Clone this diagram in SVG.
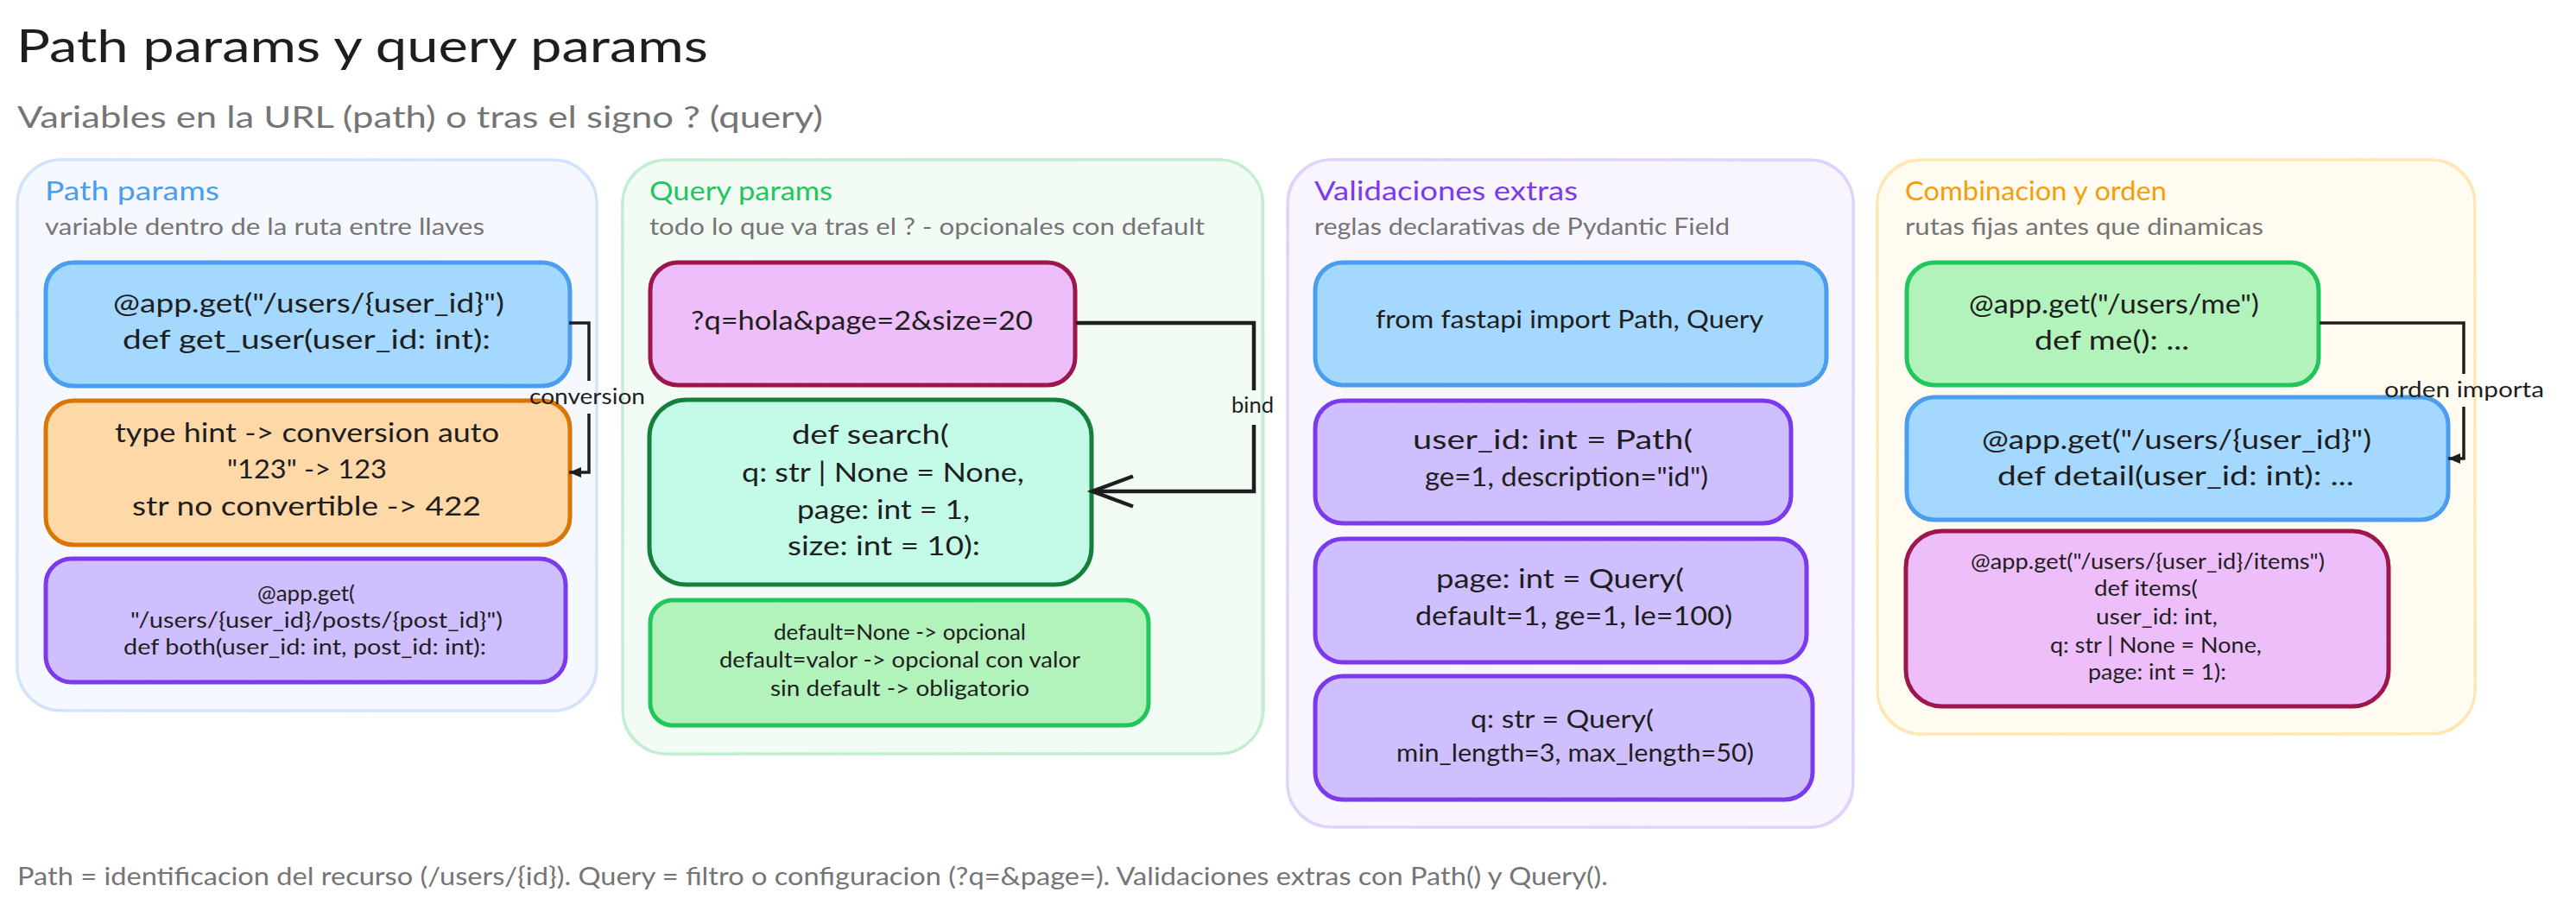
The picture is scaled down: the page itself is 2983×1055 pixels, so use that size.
<svg xmlns="http://www.w3.org/2000/svg" width="2983" height="1055" viewBox="0 0 2983 1055">
<style>
text{font-family:Lato,"Open Sans","Liberation Sans",sans-serif;fill:#1e1e1e;white-space:pre}
.h1{font-size:52px}.h2{font-size:34px;fill:#757575}.foot{font-size:28px;fill:#757575}
.pt{font-size:31px}.ps{font-size:27px;fill:#757575}
.l{font-size:31px}.m{font-size:29px}.s{font-size:25px}.lab{font-size:25px}
.p{stroke-width:3;fill:none}
.n{stroke-width:5}.n2{stroke-width:2.5;fill:none}
.pb{fill:#f5f8ff}.pbs{stroke:#d0e4fb}.pg{fill:#f2fcf5}.pgs{stroke:#c3eed3}.pv{fill:#f8f5ff}.pvs{stroke:#e0d2fb}.pa{fill:#fffbf0}.pas{stroke:#fde8b5}
.blue{fill:#a5d8ff;stroke:#4a9eed}.blues{stroke:#4a9eed}
.orange{fill:#ffd8a8;stroke:#d97706}.oranges{stroke:#d97706}
.purple{fill:#d0bfff;stroke:#7c3aed}.purples{stroke:#7c3aed}
.pink{fill:#eebefa;stroke:#9d174d}.pinks{stroke:#9d174d}
.teal{fill:#c3fae8;stroke:#15803d}.teals{stroke:#15803d}
.green{fill:#b2f2bb;stroke:#22c55e}.greens{stroke:#22c55e}
.c{fill:none;stroke:#1e1e1e;stroke-width:3.5;stroke-linejoin:miter}
</style>
<defs>
<marker id="small" markerUnits="userSpaceOnUse" markerWidth="20" markerHeight="20" refX="15" refY="10" orient="auto"><path d="M1 4L15 10L1 16Z" fill="#1e1e1e"/></marker>
<marker id="open" markerUnits="userSpaceOnUse" markerWidth="60" markerHeight="50" refX="50" refY="25" orient="auto"><path d="M3 7.5L50 25L3 42.5" fill="none" stroke="#1e1e1e" stroke-width="4.5"/></marker>
</defs>
<text class="h1" x="19" y="72" textLength="801" lengthAdjust="spacingAndGlyphs">Path params y query params</text>
<text class="h2" x="20" y="148" textLength="933" lengthAdjust="spacingAndGlyphs">Variables en la URL (path) o tras el signo ? (query)</text>

<g id="panel-path">
<rect class="pb pbs p" x="20" y="185" width="671" height="638" rx="50"/>
<rect class="pbs p" x="20" y="185" width="671" height="638" rx="52" transform="rotate(0.06 355 504)"/>
<text class="pt" style="fill:#4a9eed" x="52" y="232" textLength="202" lengthAdjust="spacingAndGlyphs">Path params</text>
<text class="ps" x="52" y="272" textLength="509" lengthAdjust="spacingAndGlyphs">variable dentro de la ruta entre llaves</text>
</g>
<g id="panel-query">
<rect class="pg pgs p" x="721" y="185" width="741" height="688" rx="50"/>
<rect class="pgs p" x="721" y="185" width="742" height="688" rx="52" transform="rotate(-0.06 1091 529)"/>
<text class="pt" style="fill:#22c55e" x="752" y="232" textLength="212" lengthAdjust="spacingAndGlyphs">Query params</text>
<text class="ps" x="752" y="272" textLength="643" lengthAdjust="spacingAndGlyphs">todo lo que va tras el ? - opcionales con default</text>
</g>
<g id="panel-valid">
<rect class="pv pvs p" x="1491" y="185" width="655" height="773" rx="50"/>
<rect class="pvs p" x="1491" y="185" width="655" height="773" rx="52" transform="rotate(0.06 1818 571)"/>
<text class="pt" style="fill:#7c3aed" x="1522" y="232" textLength="305" lengthAdjust="spacingAndGlyphs">Validaciones extras</text>
<text class="ps" x="1522" y="272" textLength="481" lengthAdjust="spacingAndGlyphs">reglas declarativas de Pydantic Field</text>
</g>
<g id="panel-orden">
<rect class="pa pas p" x="2174" y="185" width="692" height="665" rx="50"/>
<rect class="pas p" x="2174" y="185" width="692" height="665" rx="52" transform="rotate(-0.06 2520 517)"/>
<text class="pt" style="fill:#f59e0b" x="2206" y="232" textLength="303" lengthAdjust="spacingAndGlyphs">Combinacion y orden</text>
<text class="ps" x="2206" y="272" textLength="415" lengthAdjust="spacingAndGlyphs">rutas fijas antes que dinamicas</text>
</g>

<g id="node-get-user">
<rect class="blue n" x="53" y="304" width="607" height="143" rx="32"/>
<rect class="blues n2" x="53" y="304" width="607" height="143" rx="32" transform="rotate(0.12 356 375)"/>
<text class="l" x="131" y="362" textLength="453" lengthAdjust="spacingAndGlyphs">@app.get("/users/{user_id}")</text>
<text class="l" x="142" y="404" textLength="426" lengthAdjust="spacingAndGlyphs">def get_user(user_id: int):</text>
</g>
<g id="node-type-hint">
<rect class="orange n" x="53" y="464" width="607" height="167" rx="32"/>
<rect class="oranges n2" x="53" y="464" width="607" height="167" rx="32" transform="rotate(-0.12 356 547)"/>
<text class="l" x="133" y="512" textLength="445" lengthAdjust="spacingAndGlyphs">type hint -&gt; conversion auto</text>
<text class="l" x="263" y="554" textLength="185" lengthAdjust="spacingAndGlyphs">"123" -&gt; 123</text>
<text class="l" x="153" y="597" textLength="404" lengthAdjust="spacingAndGlyphs">str no convertible -&gt; 422</text>
</g>
<g id="node-both">
<rect class="purple n" x="53" y="647" width="602" height="143" rx="30"/>
<rect class="purples n2" x="53" y="647" width="602" height="143" rx="30" transform="rotate(0.12 354 718)"/>
<text class="s" x="298" y="696" textLength="113" lengthAdjust="spacingAndGlyphs">@app.get(</text>
<text class="s" x="151" y="727" textLength="431" lengthAdjust="spacingAndGlyphs">"/users/{user_id}/posts/{post_id}")</text>
<text class="s" x="143" y="758" textLength="420" lengthAdjust="spacingAndGlyphs">def both(user_id: int, post_id: int):</text>
</g>

<g id="node-url">
<rect class="pink n" x="753" y="304" width="492" height="142" rx="32"/>
<rect class="pinks n2" x="753" y="304" width="492" height="142" rx="32" transform="rotate(-0.12 999 375)"/>
<text class="l" x="800" y="382" textLength="396" lengthAdjust="spacingAndGlyphs">?q=hola&amp;page=2&amp;size=20</text>
</g>
<g id="node-search">
<rect class="teal n" x="752" y="463" width="512" height="214" rx="43"/>
<rect class="teals n2" x="752" y="463" width="512" height="214" rx="43" transform="rotate(0.12 1008 570)"/>
<text class="l" x="917" y="514" textLength="182" lengthAdjust="spacingAndGlyphs">def search(</text>
<text class="l" x="859" y="558" textLength="327" lengthAdjust="spacingAndGlyphs">q: str | None = None,</text>
<text class="l" x="923" y="601" textLength="200" lengthAdjust="spacingAndGlyphs">page: int = 1,</text>
<text class="l" x="912" y="643" textLength="223" lengthAdjust="spacingAndGlyphs">size: int = 10):</text>
</g>
<g id="node-defaults">
<rect class="green n" x="753" y="695" width="577" height="145" rx="26"/>
<rect class="greens n2" x="753" y="695" width="577" height="145" rx="26" transform="rotate(-0.12 1041 767)"/>
<text class="s" x="896" y="741" textLength="292" lengthAdjust="spacingAndGlyphs">default=None -&gt; opcional</text>
<text class="s" x="833" y="773" textLength="418" lengthAdjust="spacingAndGlyphs">default=valor -&gt; opcional con valor</text>
<text class="s" x="892" y="806" textLength="300" lengthAdjust="spacingAndGlyphs">sin default -&gt; obligatorio</text>
</g>

<g id="node-import">
<rect class="blue n" x="1523" y="304" width="592" height="142" rx="32"/>
<rect class="blues n2" x="1523" y="304" width="592" height="142" rx="32" transform="rotate(0.12 1819 375)"/>
<text class="m" x="1593" y="380" textLength="449" lengthAdjust="spacingAndGlyphs">from fastapi import Path, Query</text>
</g>
<g id="node-path-val">
<rect class="purple n" x="1523" y="464" width="551" height="142" rx="32"/>
<rect class="purples n2" x="1523" y="464" width="551" height="142" rx="32" transform="rotate(-0.12 1798 535)"/>
<text class="l" x="1636" y="520" textLength="324" lengthAdjust="spacingAndGlyphs">user_id: int = Path(</text>
<text class="l" x="1650" y="563" textLength="328" lengthAdjust="spacingAndGlyphs">ge=1, description="id")</text>
</g>
<g id="node-page-val">
<rect class="purple n" x="1523" y="624" width="569" height="143" rx="32"/>
<rect class="purples n2" x="1523" y="624" width="569" height="143" rx="32" transform="rotate(0.12 1807 695)"/>
<text class="l" x="1663" y="681" textLength="287" lengthAdjust="spacingAndGlyphs">page: int = Query(</text>
<text class="l" x="1639" y="724" textLength="367" lengthAdjust="spacingAndGlyphs">default=1, ge=1, le=100)</text>
</g>
<g id="node-q-val">
<rect class="purple n" x="1523" y="783" width="576" height="143" rx="32"/>
<rect class="purples n2" x="1523" y="783" width="576" height="143" rx="32" transform="rotate(-0.12 1811 854)"/>
<text class="m" x="1703" y="843" textLength="212" lengthAdjust="spacingAndGlyphs">q: str = Query(</text>
<text class="m" x="1617" y="882" textLength="414" lengthAdjust="spacingAndGlyphs">min_length=3, max_length=50)</text>
</g>

<g id="node-me">
<rect class="green n" x="2208" y="304" width="477" height="142" rx="32"/>
<rect class="greens n2" x="2208" y="304" width="477" height="142" rx="32" transform="rotate(0.12 2446 375)"/>
<text class="l" x="2280" y="363" textLength="336" lengthAdjust="spacingAndGlyphs">@app.get("/users/me")</text>
<text class="l" x="2356" y="405" textLength="179" lengthAdjust="spacingAndGlyphs">def me(): ...</text>
</g>
<g id="node-detail">
<rect class="blue n" x="2208" y="460" width="627" height="142" rx="32"/>
<rect class="blues n2" x="2208" y="460" width="627" height="142" rx="32" transform="rotate(-0.12 2521 531)"/>
<text class="l" x="2295" y="520" textLength="451" lengthAdjust="spacingAndGlyphs">@app.get("/users/{user_id}")</text>
<text class="l" x="2313" y="562" textLength="413" lengthAdjust="spacingAndGlyphs">def detail(user_id: int): ...</text>
</g>
<g id="node-items">
<rect class="pink n" x="2207" y="615" width="559" height="203" rx="42"/>
<rect class="pinks n2" x="2207" y="615" width="559" height="203" rx="42" transform="rotate(0.12 2486 716)"/>
<text class="s" x="2282" y="659" textLength="410" lengthAdjust="spacingAndGlyphs">@app.get("/users/{user_id}/items")</text>
<text class="s" x="2425" y="690" textLength="120" lengthAdjust="spacingAndGlyphs">def items(</text>
<text class="s" x="2427" y="723" textLength="141" lengthAdjust="spacingAndGlyphs">user_id: int,</text>
<text class="s" x="2374" y="756" textLength="245" lengthAdjust="spacingAndGlyphs">q: str | None = None,</text>
<text class="s" x="2418" y="787" textLength="160" lengthAdjust="spacingAndGlyphs">page: int = 1):</text>
</g>

<g id="connectors">
<path class="c" d="M659 374H682V441"/>
<path class="c" d="M682 479V547H659" marker-end="url(#small)"/>
<path class="c" style="stroke-width:4.5" d="M1246 374H1452V452"/>
<path class="c" style="stroke-width:4.5" d="M1452 492V569H1265" marker-end="url(#open)"/>
<path class="c" d="M2686 374H2853V433"/>
<path class="c" d="M2853 471V531H2835" marker-end="url(#small)"/>
<text class="lab" x="613" y="468" textLength="134" lengthAdjust="spacingAndGlyphs">conversion</text>
<text class="lab" x="1426" y="478" textLength="49" lengthAdjust="spacingAndGlyphs">bind</text>
<text class="lab" x="2761" y="460" textLength="185" lengthAdjust="spacingAndGlyphs">orden importa</text>
</g>
<text class="foot" x="20" y="1025" textLength="1842" lengthAdjust="spacingAndGlyphs">Path = identificacion del recurso (/users/{id}). Query = filtro o configuracion (?q=&amp;page=). Validaciones extras con Path() y Query().</text>
</svg>
